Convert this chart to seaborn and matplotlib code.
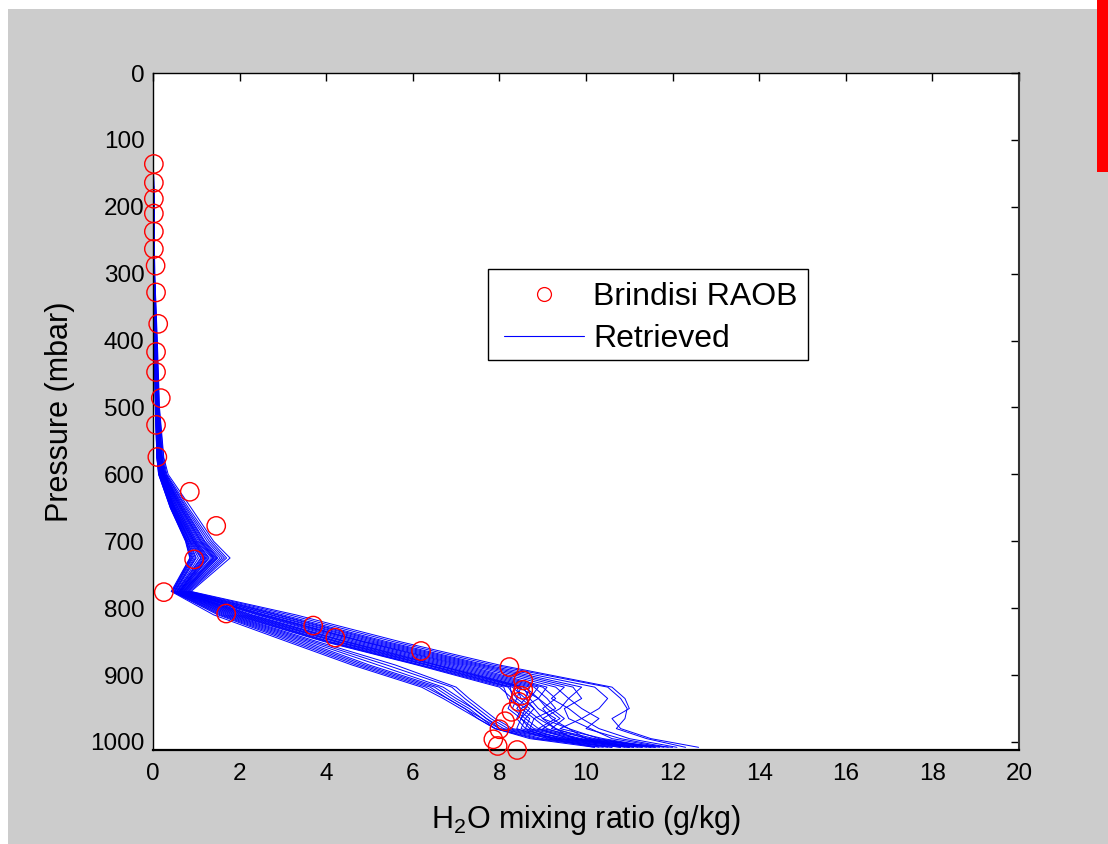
import numpy as np
import pandas as pd
import matplotlib
matplotlib.use("Agg")
import matplotlib.pyplot as plt
from matplotlib.patches import Rectangle
from matplotlib.lines import Line2D
import seaborn as sns

# ---------------- data ----------------
raob_h2o = [0.02, 0.02, 0.02, 0.02, 0.02, 0.02, 0.06, 0.07, 0.12, 0.07, 0.07,
            0.18, 0.07, 0.10, 0.85, 1.46, 0.95, 0.25, 1.69, 3.70, 4.21, 6.19,
            8.23, 8.55, 8.55, 8.50, 8.45, 8.28, 8.13, 8.00, 7.86, 7.96, 8.41]
raob_p = [136, 164, 188, 210, 237, 263, 288, 328, 375, 417, 447,
          486, 526, 574, 626, 677, 727, 776, 808, 826, 844, 864,
          888, 908, 922, 931, 940, 955, 969, 981, 996, 1006, 1012]

retr_levels = [137, 300, 400, 500, 575, 600, 650, 700, 725, 775, 810, 850,
               885, 918, 935, 950, 965, 980, 995, 1008]

retr_profiles = [
    [0.01, 0.04, 0.10, 0.15, 0.25, 0.35, 0.88, 1.40, 1.78, 0.88, 3.30, 5.70, 8.00, 10.60, 10.90, 11.00, 10.60, 10.80, 11.50, 12.60],
    [0.01, 0.04, 0.09, 0.14, 0.24, 0.32, 0.82, 1.35, 1.70, 0.85, 3.15, 5.55, 7.85, 10.50, 10.80, 10.95, 10.90, 10.70, 11.40, 12.30],
    [0.01, 0.03, 0.09, 0.13, 0.22, 0.30, 0.78, 1.30, 1.65, 0.82, 3.00, 5.40, 7.70, 10.20, 10.50, 10.30, 9.90, 10.30, 11.00, 12.10],
    [0.01, 0.03, 0.08, 0.13, 0.21, 0.30, 0.75, 1.25, 1.60, 0.80, 2.90, 5.30, 7.60, 9.90, 9.60, 9.90, 10.30, 10.00, 10.80, 11.90],
    [0.01, 0.03, 0.08, 0.12, 0.20, 0.28, 0.72, 1.20, 1.55, 0.78, 2.85, 5.20, 7.50, 9.70, 9.90, 9.50, 9.60, 10.10, 10.60, 11.80],
    [0.01, 0.03, 0.08, 0.12, 0.20, 0.27, 0.70, 1.18, 1.50, 0.75, 2.75, 5.10, 7.40, 9.50, 9.20, 9.60, 9.90, 9.40, 10.40, 11.60],
    [0.01, 0.03, 0.07, 0.12, 0.19, 0.26, 0.68, 1.15, 1.48, 0.74, 2.70, 5.00, 7.30, 9.30, 9.60, 9.40, 9.00, 9.60, 10.30, 11.50],
    [0.01, 0.03, 0.07, 0.11, 0.18, 0.25, 0.66, 1.12, 1.45, 0.72, 2.60, 4.90, 7.20, 9.10, 8.90, 9.20, 9.50, 9.20, 10.20, 11.40],
    [0.01, 0.03, 0.07, 0.11, 0.18, 0.25, 0.65, 1.10, 1.42, 0.70, 2.55, 4.85, 7.10, 9.00, 9.30, 9.00, 9.20, 9.60, 10.00, 11.20],
    [0.01, 0.03, 0.07, 0.11, 0.17, 0.24, 0.63, 1.08, 1.40, 0.70, 2.50, 4.80, 7.00, 8.90, 8.70, 8.90, 9.30, 8.90, 9.90, 11.10],
    [0.01, 0.02, 0.06, 0.10, 0.17, 0.23, 0.62, 1.05, 1.38, 0.68, 2.45, 4.70, 6.90, 8.80, 9.10, 9.30, 8.80, 9.10, 9.80, 11.00],
    [0.01, 0.02, 0.06, 0.10, 0.16, 0.22, 0.60, 1.02, 1.35, 0.66, 2.40, 4.60, 6.80, 8.70, 8.60, 8.80, 9.00, 9.30, 9.70, 10.90],
    [0.01, 0.02, 0.06, 0.10, 0.16, 0.22, 0.58, 1.00, 1.30, 0.65, 2.30, 4.50, 6.70, 8.60, 8.90, 9.10, 9.40, 9.00, 10.10, 11.70],
    [0.01, 0.02, 0.06, 0.10, 0.15, 0.21, 0.57, 0.98, 1.28, 0.64, 2.25, 4.45, 6.60, 8.55, 8.70, 8.60, 8.90, 9.30, 10.00, 11.50],
    [0.01, 0.02, 0.05, 0.09, 0.15, 0.20, 0.55, 0.96, 1.25, 0.62, 2.20, 4.40, 6.55, 8.50, 8.40, 8.70, 8.50, 8.80, 9.80, 11.30],
    [0.01, 0.02, 0.05, 0.09, 0.14, 0.20, 0.54, 0.95, 1.22, 0.62, 2.15, 4.30, 6.50, 8.45, 8.90, 8.50, 8.80, 8.70, 9.70, 11.10],
    [0.01, 0.02, 0.05, 0.09, 0.14, 0.19, 0.52, 0.93, 1.20, 0.60, 2.10, 4.25, 6.40, 8.40, 8.50, 8.80, 8.60, 8.90, 9.60, 11.00],
    [0.01, 0.02, 0.05, 0.08, 0.13, 0.19, 0.51, 0.92, 1.18, 0.60, 2.05, 4.20, 6.35, 8.30, 8.60, 8.40, 8.70, 8.60, 9.50, 10.80],
    [0.01, 0.02, 0.05, 0.08, 0.13, 0.18, 0.50, 0.90, 1.15, 0.58, 2.00, 4.10, 6.30, 8.25, 8.30, 8.60, 8.50, 8.70, 9.40, 10.60],
    [0.01, 0.02, 0.05, 0.08, 0.12, 0.18, 0.49, 0.88, 1.12, 0.56, 1.95, 4.05, 6.20, 8.20, 8.40, 8.30, 8.60, 8.50, 9.30, 10.50],
    [0.01, 0.02, 0.04, 0.08, 0.12, 0.17, 0.48, 0.86, 1.10, 0.55, 1.90, 4.00, 6.15, 8.10, 8.20, 8.50, 8.40, 8.60, 9.20, 10.30],
    [0.01, 0.02, 0.04, 0.07, 0.12, 0.17, 0.47, 0.85, 1.05, 0.54, 1.85, 3.95, 6.10, 8.00, 8.30, 8.20, 8.50, 8.40, 9.10, 10.20],
    [0.01, 0.02, 0.04, 0.07, 0.11, 0.16, 0.46, 0.84, 1.00, 0.52, 1.80, 3.80, 5.60, 7.00, 7.30, 7.60, 7.90, 8.30, 9.60, 12.00],
    [0.01, 0.02, 0.04, 0.07, 0.11, 0.16, 0.45, 0.82, 0.98, 0.50, 1.75, 3.70, 5.40, 6.90, 7.20, 7.50, 7.80, 8.20, 9.40, 11.60],
    [0.01, 0.02, 0.04, 0.07, 0.10, 0.15, 0.44, 0.80, 0.95, 0.50, 1.70, 3.60, 5.20, 6.70, 7.10, 7.40, 7.70, 8.10, 9.30, 11.30],
    [0.01, 0.02, 0.04, 0.06, 0.10, 0.15, 0.43, 0.80, 0.92, 0.48, 1.65, 3.50, 5.00, 6.60, 7.00, 7.40, 7.70, 8.00, 9.20, 11.00],
    [0.01, 0.02, 0.04, 0.06, 0.10, 0.14, 0.42, 0.78, 0.90, 0.46, 1.60, 3.40, 4.90, 6.50, 6.90, 7.30, 7.60, 8.00, 9.00, 10.80],
    [0.01, 0.02, 0.03, 0.06, 0.09, 0.14, 0.41, 0.77, 0.88, 0.45, 1.55, 3.30, 4.80, 6.40, 6.80, 7.20, 7.60, 7.90, 8.90, 10.60],
    [0.01, 0.02, 0.03, 0.06, 0.09, 0.13, 0.40, 0.76, 0.86, 0.44, 1.50, 3.20, 4.70, 6.30, 6.80, 7.20, 7.50, 7.90, 8.80, 10.40],
    [0.01, 0.02, 0.03, 0.05, 0.09, 0.13, 0.40, 0.75, 0.85, 0.42, 1.40, 3.10, 4.60, 6.20, 6.70, 7.10, 7.50, 7.90, 8.70, 10.20],
]

x_ticks = [0, 2, 4, 6, 8, 10, 12, 14, 16, 18, 20]
y_ticks = [0, 100, 200, 300, 400, 500, 600, 700, 800, 900, 1000]

legend_labels = ["Brindisi RAOB", "Retrieved"]
x_label = "H$_2$O mixing ratio (g/kg)"
y_label = "Pressure (mbar)"

# ---------------- build tables ----------------
rows = []
for i, prof in enumerate(retr_profiles):
    for p, v in zip(retr_levels, prof):
        rows.append({"profile": i, "pressure": p, "h2o": v})
retr_df = pd.DataFrame(rows)
raob_df = pd.DataFrame({"pressure": raob_p, "h2o": raob_h2o})

# ---------------- style ----------------
sns.set_theme(style="white")
plt.rcParams["font.family"] = ["Liberation Sans", "DejaVu Sans"]
plt.rcParams["mathtext.fontset"] = "custom"
plt.rcParams["mathtext.rm"] = "Liberation Sans"
plt.rcParams["mathtext.it"] = "Liberation Sans"
plt.rcParams["mathtext.default"] = "regular"
for key in ["text.color", "axes.labelcolor", "xtick.color", "ytick.color"]:
    plt.rcParams[key] = "black"

W, H = 1108, 844
fig = plt.figure(figsize=(W / 100, H / 100), dpi=100, facecolor="white")
# grey panel and red edge bar (behind the axes)
fig.patches.append(Rectangle((8 / W, 0), 1 - 8 / W, (H - 9) / H,
                             transform=fig.transFigure, facecolor="#cccccc",
                             edgecolor="none", zorder=-10))
fig.patches.append(Rectangle((1097 / W, (H - 172) / H), 11 / W, 172 / H,
                             transform=fig.transFigure, facecolor="#ff0000",
                             edgecolor="none", zorder=-9))

ax = fig.add_axes([153 / W, (H - 750) / H, 866 / W, 677 / H])
ax.set_zorder(5)
ax.set_facecolor("white")

sns.lineplot(data=retr_df, x="h2o", y="pressure", units="profile",
             estimator=None, sort=False, color="#0000ff", linewidth=0.7,
             ax=ax, legend=False)
sns.scatterplot(data=raob_df, x="h2o", y="pressure", marker="o", s=175,
                facecolor="none", edgecolor="#ff0000", linewidth=1.0,
                ax=ax, legend=False, clip_on=False, zorder=5)

ax.set_xlim(0, 20)
ax.set_ylim(1012, 0)
ax.set_xticks(x_ticks)
ax.set_yticks(y_ticks)
ax.tick_params(direction="in", length=6, width=1, top=True, right=True,
               labelsize=17.5, colors="black")
ax.tick_params(axis="x", pad=9)
ax.tick_params(axis="y", pad=6)
for s in ax.spines.values():
    s.set_visible(True)
    s.set_color("black")
    s.set_linewidth(1.0)
ax.spines["bottom"].set_linewidth(1.6)
ax.spines["right"].set_color("#333333")
ax.spines["right"].set_linewidth(1.5)

ax.set_xlabel(x_label, fontsize=22, labelpad=13, color="black")
ax.set_ylabel(y_label, fontsize=22, labelpad=11, color="black")

# legend box
box = Rectangle((0.3868, 0.5761), 0.7564 - 0.3868, 0.7105 - 0.5761,
                transform=ax.transAxes, facecolor="white", edgecolor="black",
                linewidth=1.0, zorder=6)
ax.add_patch(box)
handles = [
    Line2D([], [], linestyle="none", marker="o", markersize=10,
           markerfacecolor="none", markeredgecolor="#ff0000", markeredgewidth=0.9),
    Line2D([], [], color="#0000ff", linewidth=0.8),
]
leg = ax.legend(handles, legend_labels, loc="upper left",
                bbox_to_anchor=(0.4053, 0.691), fontsize=23, frameon=False,
                handlelength=2.5, handletextpad=0.3,
                borderpad=0.0, labelspacing=0.36, borderaxespad=0)
leg.set_zorder(7)

fig.savefig("out.png", dpi=100, facecolor=fig.get_facecolor())
